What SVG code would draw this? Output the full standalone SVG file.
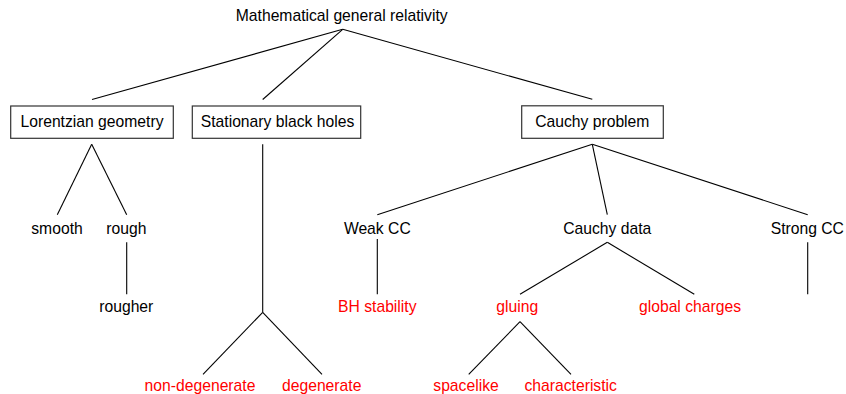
<svg xmlns="http://www.w3.org/2000/svg" width="846" height="394" viewBox="0 0 846 394">
<style>
text{font-family:"Liberation Sans",Arial,sans-serif;font-size:15.7px;text-anchor:middle;fill:#000}
text.r{fill:#ff0000}
.box{fill:#fff;stroke:#333;stroke-width:1.2}
.c line{stroke:#000;stroke-width:1.1}
</style>
<rect width="846" height="394" fill="#fff"/>
<g class="c" id="connectors">
<line x1="342.7" y1="29.3" x2="92" y2="99.5"/>
<line x1="342.7" y1="29.3" x2="262.7" y2="99.5"/>
<line x1="342.7" y1="29.3" x2="592.3" y2="99.3"/>
<line x1="91.7" y1="144.3" x2="57.3" y2="214.7"/>
<line x1="91.7" y1="144.3" x2="126.7" y2="214.7"/>
<line x1="126.7" y1="242.3" x2="126.7" y2="294.3"/>
<line x1="262.7" y1="144.3" x2="262.7" y2="312.3"/>
<line x1="262.7" y1="312.3" x2="203" y2="374.3"/>
<line x1="262.7" y1="312.3" x2="322" y2="374.3"/>
<line x1="592.3" y1="144.3" x2="377.3" y2="214.7"/>
<line x1="592.3" y1="144.3" x2="607.3" y2="214.7"/>
<line x1="592.3" y1="144.3" x2="807.7" y2="214.7"/>
<line x1="377.3" y1="239" x2="377.3" y2="294.3"/>
<line x1="607.3" y1="242.3" x2="520" y2="294.3"/>
<line x1="607.3" y1="242.3" x2="694.3" y2="294.3"/>
<line x1="807.7" y1="242.3" x2="807.7" y2="294.3"/>
<line x1="520" y1="321.7" x2="468.7" y2="374.3"/>
<line x1="520" y1="321.7" x2="571" y2="374.3"/>
</g>
<g id="root"><text x="341.7" y="20.5">Mathematical general relativity</text></g>
<g id="lorentzian"><rect class="box" x="10.7" y="106" width="162.6" height="32.3"/><text x="92" y="127">Lorentzian geometry</text></g>
<g id="stationary"><rect class="box" x="192.3" y="106" width="168.4" height="32.3"/><text x="277.5" y="127">Stationary black holes</text></g>
<g id="cauchy"><rect class="box" x="521.7" y="105.8" width="141.6" height="32.5"/><text x="592.3" y="127">Cauchy problem</text></g>
<g id="smooth"><text x="57" y="233.5">smooth</text></g>
<g id="rough"><text x="126.3" y="233.5">rough</text></g>
<g id="rougher"><text x="126.3" y="312">rougher</text></g>
<g id="nondeg"><text class="r" x="200" y="391">non-degenerate</text></g>
<g id="deg"><text class="r" x="321.7" y="391">degenerate</text></g>
<g id="weakcc"><text x="377.3" y="233.5">Weak CC</text></g>
<g id="bhstab"><text class="r" x="377.3" y="312">BH stability</text></g>
<g id="cauchydata"><text x="607.3" y="233.5">Cauchy data</text></g>
<g id="strongcc"><text x="807.3" y="233.5">Strong CC</text></g>
<g id="gluing"><text class="r" x="517.3" y="312">gluing</text></g>
<g id="globalcharges"><text class="r" x="690" y="312">global charges</text></g>
<g id="spacelike"><text class="r" x="466" y="391">spacelike</text></g>
<g id="characteristic"><text class="r" x="570.7" y="391">characteristic</text></g>
</svg>
